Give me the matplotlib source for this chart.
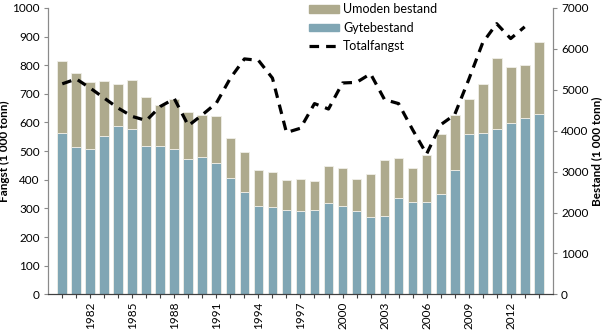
import matplotlib
matplotlib.use("Agg")
import matplotlib.pyplot as plt
from matplotlib.patches import Patch
from matplotlib.lines import Line2D

plt.rcParams['font.family'] = ['Lato', 'DejaVu Sans']

years = list(range(1980, 2015))
gytebestand = [3950, 3595, 3560, 3880, 4120, 4040, 3625, 3625, 3560, 3310,
               3345, 3205, 2835, 2510, 2165, 2135, 2055, 2030, 2055, 2225,
               2165, 2030, 1890, 1920, 2360, 2255, 2255, 2445, 3040, 3910,
               3950, 4050, 4180, 4300, 4410]
totalbestand = [5695, 5410, 5190, 5215, 5135, 5245, 4825, 4630, 4775, 4465,
                4385, 4350, 3830, 3485, 3040, 2985, 2785, 2820, 2765, 3135,
                3095, 2820, 2935, 3290, 3325, 3095, 3405, 3920, 4385, 4775,
                5140, 5775, 5560, 5605, 6170]
umoden = [t - g for t, g in zip(totalbestand, gytebestand)]

fangst_years = list(range(1980, 2014))
totalfangst = [735, 752, 720, 685, 650, 621, 607, 656, 683, 589,
               627, 668, 755, 822, 817, 755, 565, 580, 666, 647,
               738, 740, 770, 680, 666, 575, 490, 592, 627, 749,
               878, 945, 893, 934]

blue = '#80a6b4'
khaki = '#aeaa8d'
grey = '#8a8a8a'
fs = 8.5

fig = plt.figure(figsize=(6.03, 3.30), dpi=100)
ax = fig.add_axes([0.080, 0.108, 0.8366, 0.868])
ax2 = ax.twinx()

# bars on the right-hand scale
ax.bar(years, gytebestand, width=0.7, color=blue, edgecolor='#f0efe8', linewidth=0.6)
ax.bar(years, umoden, bottom=gytebestand, width=0.7, color=khaki, edgecolor='#f0efe8', linewidth=0.6)
ax.set_xlim(1979, 2015)
ax.set_ylim(0, 7000)
ax.set_yticks(range(0, 7001, 1000))
ax.yaxis.tick_right()
ax.yaxis.set_label_position('right')
ax.set_ylabel('Bestand (1 000 tonn)', fontsize=fs, fontweight='bold', labelpad=2)

# catch line on the left-hand scale
ax2.plot(fangst_years, totalfangst, color='black', linewidth=2.3, linestyle=(0, (3, 2.2)))
ax2.set_ylim(0, 1000)
ax2.set_yticks(range(0, 1001, 100))
ax2.yaxis.tick_left()
ax2.yaxis.set_label_position('left')
ax2.set_ylabel('Fangst (1 000 tonn)', fontsize=fs, fontweight='bold', labelpad=2)

ax.set_xticks(years)
ax.set_xticklabels([str(y) if (y - 1982) % 3 == 0 and y >= 1982 else '' for y in years],
                   rotation=90, fontsize=fs)

for a in (ax, ax2):
    a.spines['top'].set_visible(False)
    a.spines['left'].set_color(grey)
    a.spines['right'].set_color(grey)
    a.spines['bottom'].set_color('#404040')
    a.tick_params(axis='y', labelsize=fs, length=3, color=grey, pad=3)
ax.tick_params(axis='x', length=3, color='#404040', pad=2)

handles = [Patch(color=khaki), Patch(color=blue),
           Line2D([0], [0], color='black', linewidth=2.3, linestyle=(0, (3, 2.2)))]
labels = ['Umoden bestand', 'Gytebestand', 'Totalfangst']
ax2.legend(handles, labels, loc='upper left', bbox_to_anchor=(0.495, 1.055), frameon=False,
           fontsize=9, handlelength=2.4, handleheight=0.5, labelspacing=0.5, handletextpad=0.3)

fig.savefig('out.png', dpi=100)
